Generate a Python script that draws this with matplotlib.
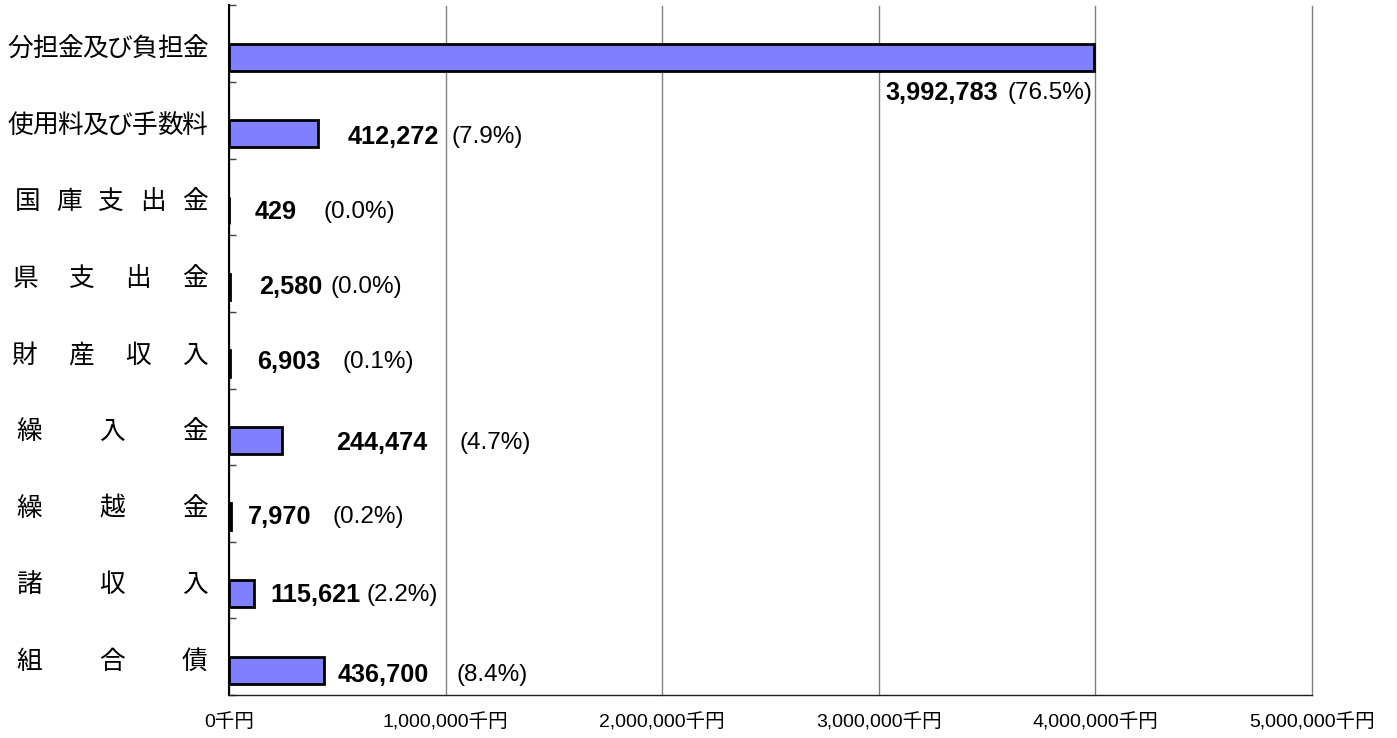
import matplotlib
matplotlib.use('Agg')
import matplotlib.pyplot as plt
from matplotlib.transforms import blended_transform_factory

# ---- data ----
categories = ['分担金及び負担金', '使用料及び手数料', '国庫支出金', '県支出金', '財産収入',
              '繰入金', '繰越金', '諸収入', '組合債']
values = [3992783, 412272, 429, 2580, 6903, 244474, 7970, 115621, 436700]
percent_labels = ['76.5%', '7.9%', '0.0%', '0.0%', '0.1%', '4.7%', '0.2%', '2.2%', '8.4%']
x_ticks = [0, 1000000, 2000000, 3000000, 4000000, 5000000]
x_unit = '千円'

# ---- label layout (positions only) ----
cat_left_px = [8, 8, 15, 13, 12, 17, 17, 17, 17]
cat_right_px = 207
num_label_x = [3028600, 549400, 120000, 138500, 129300, 494000, 87700, 189300, 503200]
pct_label_x = [3591900, 1029500, 434000, 466300, 526300, 1061900, 480100, 637100, 1052600]
label_dy = [0.64, 0.22, 0.20, 0.18, 0.15, 0.21, 0.18, 0.20, 0.24]

W, H = 1397, 738
fig = plt.figure(figsize=(W / 100, H / 100), dpi=100)
ax = fig.add_axes([229 / W, 1 - 695 / H, (1312 - 229) / W, (695 - 5.5) / H])

ys = list(range(len(categories)))
ax.barh(ys, values, height=0.35, align='edge', color='#8080FF',
        edgecolor='black', linewidth=2.0, zorder=3)

ax.set_xlim(0, 5000000)
ax.set_ylim(len(categories) - 0.5, -0.5)

ax.set_xticks(x_ticks)
ax.set_xticklabels([f'{v:,}{x_unit}' for v in x_ticks],
                   fontfamily=['Liberation Sans', 'Noto Sans CJK JP'], fontsize=14)
ax.tick_params(axis='x', length=0, pad=13)

ax.set_yticks([k - 0.5 for k in range(len(categories) + 1)])
ax.set_yticklabels([])
ax.tick_params(axis='y', direction='in', length=5, width=1, color='#404040')

ax.xaxis.grid(True, color='#808080', linewidth=1.0, zorder=0)
for gl in ax.get_xgridlines():
    gl.set_clip_on(False)
ax.set_axisbelow(True)
for s in ['top', 'right']:
    ax.spines[s].set_visible(False)
ax.spines['left'].set_linewidth(1.5)
ax.spines['left'].set_color('black')
ax.spines['bottom'].set_linewidth(1.0)
ax.spines['bottom'].set_color('#202020')

# category labels, justified character by character
tr = blended_transform_factory(fig.transFigure, ax.transData)
em = 25
for i, lab in enumerate(categories):
    chars = list(lab)
    n = len(chars)
    c0 = cat_left_px[i] + em / 2
    c1 = cat_right_px - em / 2
    for k, ch in enumerate(chars):
        cx = c0 + (c1 - c0) * k / (n - 1) if n > 1 else c1
        ax.text(cx / W, i + 0.07, ch, transform=tr, ha='center', va='center',
                fontfamily='Noto Sans CJK JP', fontsize=18.5, color='black',
                clip_on=False)

# value + percent labels
for i, v in enumerate(values):
    ax.text(num_label_x[i], i + label_dy[i], f'{v:,}', ha='left', va='center',
            fontfamily='Liberation Sans', fontweight='bold', fontsize=18.2,
            color='black', zorder=4)
    ax.text(pct_label_x[i], i + label_dy[i], f'({percent_labels[i]})', ha='left',
            va='center', fontfamily='Liberation Sans', fontsize=17.5,
            color='black', zorder=4)

fig.savefig('out.png', dpi=100)
